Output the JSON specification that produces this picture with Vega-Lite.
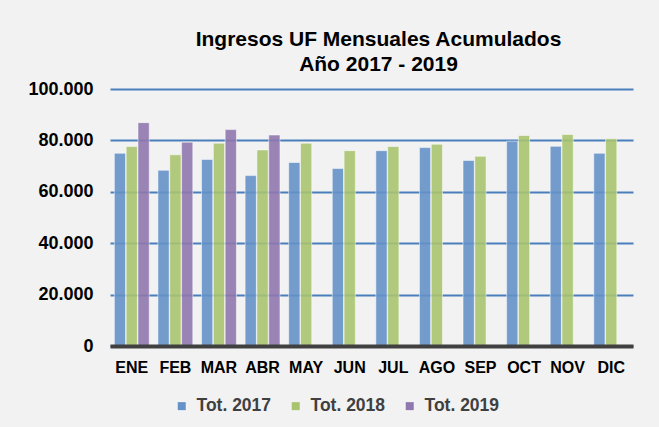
{
  "$schema": "https://vega.github.io/schema/vega-lite/v6.json",
  "width": 523,
  "height": 257,
  "autosize": {"type": "none"},
  "padding": {"left": 110, "top": 89, "right": 26, "bottom": 81},
  "background": "#f2f2f2",
  "title": {
    "text": ["Ingresos UF Mensuales Acumulados", "Año 2017 - 2019"],
    "font": "Liberation Sans",
    "fontSize": 21,
    "fontWeight": "bold",
    "color": "#000000",
    "anchor": "middle",
    "dx": 7,
    "offset": 5,
    "lineHeight": 25
  },
  "data": {
    "values": [
      {"mes": "ENE", "serie": "Tot. 2017", "valor": 75000},
      {"mes": "ENE", "serie": "Tot. 2018", "valor": 77600},
      {"mes": "ENE", "serie": "Tot. 2019", "valor": 86900},
      {"mes": "FEB", "serie": "Tot. 2017", "valor": 68400},
      {"mes": "FEB", "serie": "Tot. 2018", "valor": 74400},
      {"mes": "FEB", "serie": "Tot. 2019", "valor": 79300},
      {"mes": "MAR", "serie": "Tot. 2017", "valor": 72600},
      {"mes": "MAR", "serie": "Tot. 2018", "valor": 78900},
      {"mes": "MAR", "serie": "Tot. 2019", "valor": 84200},
      {"mes": "ABR", "serie": "Tot. 2017", "valor": 66300},
      {"mes": "ABR", "serie": "Tot. 2018", "valor": 76300},
      {"mes": "ABR", "serie": "Tot. 2019", "valor": 82100},
      {"mes": "MAY", "serie": "Tot. 2017", "valor": 71400},
      {"mes": "MAY", "serie": "Tot. 2018", "valor": 78900},
      {"mes": "JUN", "serie": "Tot. 2017", "valor": 69100},
      {"mes": "JUN", "serie": "Tot. 2018", "valor": 76000},
      {"mes": "JUL", "serie": "Tot. 2017", "valor": 76000},
      {"mes": "JUL", "serie": "Tot. 2018", "valor": 77600},
      {"mes": "AGO", "serie": "Tot. 2017", "valor": 77200},
      {"mes": "AGO", "serie": "Tot. 2018", "valor": 78500},
      {"mes": "SEP", "serie": "Tot. 2017", "valor": 72200},
      {"mes": "SEP", "serie": "Tot. 2018", "valor": 73800},
      {"mes": "OCT", "serie": "Tot. 2017", "valor": 79700},
      {"mes": "OCT", "serie": "Tot. 2018", "valor": 81900},
      {"mes": "NOV", "serie": "Tot. 2017", "valor": 77700},
      {"mes": "NOV", "serie": "Tot. 2018", "valor": 82300},
      {"mes": "DIC", "serie": "Tot. 2017", "valor": 75000},
      {"mes": "DIC", "serie": "Tot. 2018", "valor": 80600}
    ]
  },
  "mark": {"type": "bar", "fillOpacity": 0.9, "stroke": "#ffffff", "strokeOpacity": 0.5, "strokeWidth": 1},
  "encoding": {
    "x": {
      "field": "mes",
      "type": "nominal",
      "sort": ["ENE", "FEB", "MAR", "ABR", "MAY", "JUN", "JUL", "AGO", "SEP", "OCT", "NOV", "DIC"],
      "scale": {"paddingInner": 0.2, "paddingOuter": 0.1},
      "axis": {
        "title": null,
        "labelAngle": 0,
        "ticks": false,
        "grid": false,
        "domainColor": "#404040",
        "domainWidth": 4,
        "labelPadding": 13,
        "labelFont": "Liberation Sans",
        "labelFontSize": 16,
        "labelFontWeight": "bold",
        "labelColor": "#000000",
        "zindex": 1
      }
    },
    "xOffset": {
      "field": "serie",
      "type": "nominal",
      "scale": {"domain": ["Tot. 2017", "Tot. 2018", "Tot. 2019"], "paddingInner": 0.05}
    },
    "y": {
      "field": "valor",
      "type": "quantitative",
      "scale": {"domain": [0, 100000], "nice": false},
      "axis": {
        "title": null,
        "values": [0, 20000, 40000, 60000, 80000, 100000],
        "labelExpr": "replace(format(datum.value, ','), ',', '.')",
        "grid": true,
        "gridColor": "#4a7ebb",
        "gridWidth": 2,
        "domain": false,
        "ticks": false,
        "labelPadding": 17,
        "labelFont": "Liberation Sans",
        "labelFontSize": 18,
        "labelFontWeight": "bold",
        "labelColor": "#000000"
      }
    },
    "color": {
      "field": "serie",
      "type": "nominal",
      "scale": {"domain": ["Tot. 2017", "Tot. 2018", "Tot. 2019"], "range": ["#6592c8", "#a8c46f", "#8f78ae"]},
      "legend": {
        "title": null,
        "orient": "none",
        "legendX": 63,
        "legendY": 308,
        "direction": "horizontal",
        "columns": 3,
        "columnPadding": 15,
        "symbolType": "square",
        "symbolSize": 64,
        "symbolStrokeWidth": 0,
        "symbolOpacity": 1,
        "labelOffset": 6,
        "labelFont": "Liberation Sans",
        "labelFontSize": 17.5,
        "labelFontWeight": "bold",
        "labelColor": "#404040"
      }
    }
  },
  "config": {"view": {"stroke": null}}
}
